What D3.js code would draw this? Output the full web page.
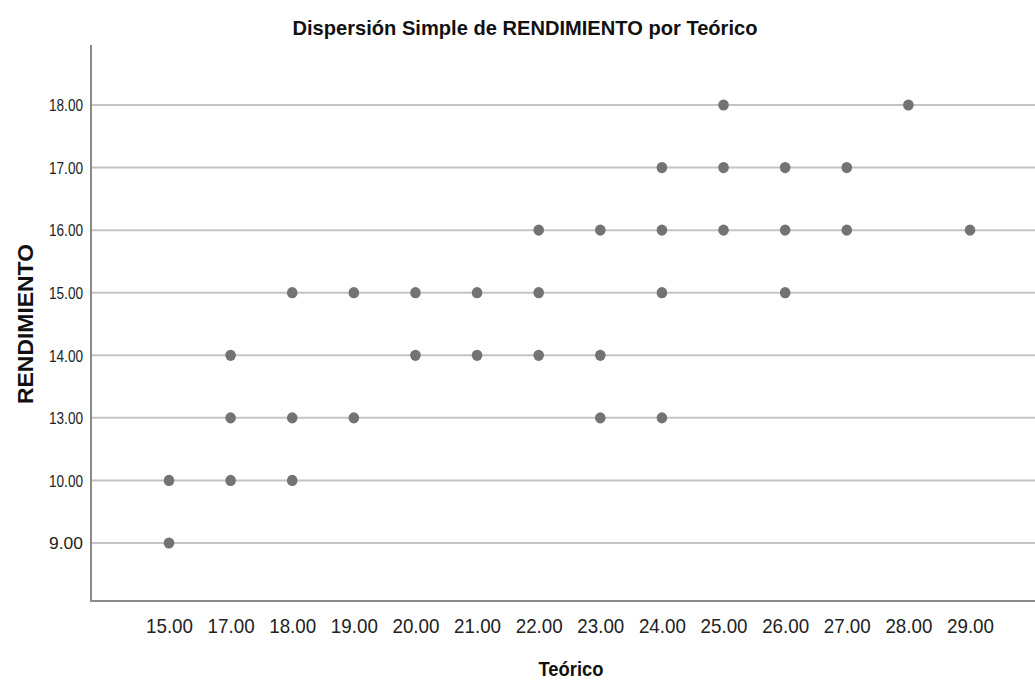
<!DOCTYPE html>
<html>
<head>
<meta charset="utf-8">
<script src="https://cdn.jsdelivr.net/npm/d3@7"></script>
<style>
  html, body { margin: 0; padding: 0; background: #fff; }
  svg { display: block; font-family: "Liberation Sans", Arial, sans-serif; }
</style>
</head>
<body>
<svg id="chart" width="1035" height="682"></svg>
<script>
// Categories (ordinal axes, as in SPSS)
const xCategories = [15, 17, 18, 19, 20, 21, 22, 23, 24, 25, 26, 27, 28, 29];
const yCategories = [9, 10, 13, 14, 15, 16, 17, 18];

// Observed points (Teórico, RENDIMIENTO)
const teorico = [15, 15, 17, 17, 17, 18, 18, 18, 19, 19, 20, 20, 21, 21, 22, 22, 22, 23, 23, 23, 24, 24, 24, 24, 25, 25, 25, 26, 26, 26, 27, 27, 28, 29];
const rendimiento = [10, 9, 14, 13, 10, 15, 13, 10, 15, 13, 15, 14, 15, 14, 16, 15, 14, 16, 14, 13, 17, 16, 15, 13, 18, 17, 16, 17, 16, 15, 17, 16, 18, 16];

const titleText = "Dispersión Simple de RENDIMIENTO por Teórico";
const xTitle = "Teórico";
const yTitle = "RENDIMIENTO";

const svg = d3.select("#chart");
const plot = { left: 91, right: 1035, top: 45, bottom: 601 };

const x = d3.scalePoint().domain(xCategories).range([169, 970]);
const y = d3.scalePoint().domain(yCategories).range([543, 105]);

// Gridlines
svg.append("g").selectAll("line").data(yCategories).join("line")
  .attr("x1", plot.left).attr("x2", plot.right)
  .attr("y1", d => y(d)).attr("y2", d => y(d))
  .attr("stroke", "#c4c4c4").attr("stroke-width", 2);

// Y axis
const yAxis = svg.append("g").attr("transform", `translate(${plot.left},0)`)
  .call(d3.axisLeft(y).tickSize(0).tickPadding(8).tickFormat(d => d3.format(".2f")(d)));
yAxis.select(".domain").remove();
yAxis.selectAll("text")
  .attr("font-size", 16).attr("fill", "#222")
  .attr("font-family", "'Liberation Sans', Arial, sans-serif")
  .attr("textLength", 34).attr("lengthAdjust", "spacingAndGlyphs")
  .attr("dy", "0.36em");

// X axis
const xAxis = svg.append("g").attr("transform", `translate(0,${plot.bottom})`)
  .call(d3.axisBottom(x).tickSize(0).tickPadding(17).tickFormat(d => d3.format(".2f")(d)));
xAxis.select(".domain").remove();
xAxis.selectAll("text")
  .attr("font-size", 21).attr("fill", "#222")
  .attr("font-family", "'Liberation Sans', Arial, sans-serif")
  .attr("textLength", 47).attr("lengthAdjust", "spacingAndGlyphs");

// Axis lines
svg.append("line").attr("x1", plot.left).attr("x2", plot.left)
  .attr("y1", plot.top).attr("y2", plot.bottom + 1)
  .attr("stroke", "#8a8a8a").attr("stroke-width", 2);
svg.append("line").attr("x1", plot.left - 1).attr("x2", plot.right)
  .attr("y1", plot.bottom).attr("y2", plot.bottom)
  .attr("stroke", "#8a8a8a").attr("stroke-width", 2);

// Points
const pts = teorico.map((t, i) => ({ x: t, y: rendimiento[i] }));
svg.append("g").selectAll("ellipse").data(pts).join("ellipse")
  .attr("cx", d => x(d.x)).attr("cy", d => y(d.y))
  .attr("rx", 5.3).attr("ry", 5.6)
  .attr("fill", "#737373");

// Title
svg.append("text").attr("x", 525).attr("y", 35)
  .attr("text-anchor", "middle").attr("font-size", 21).attr("font-weight", "bold")
  .attr("fill", "#111")
  .attr("textLength", 465).attr("lengthAdjust", "spacingAndGlyphs")
  .text(titleText);

// X title
svg.append("text").attr("x", 571).attr("y", 676)
  .attr("text-anchor", "middle").attr("font-size", 20).attr("font-weight", "bold")
  .attr("fill", "#111")
  .attr("textLength", 65).attr("lengthAdjust", "spacingAndGlyphs")
  .text(xTitle);

// Y title
svg.append("text").attr("transform", "translate(33,324) rotate(-90)")
  .attr("text-anchor", "middle").attr("font-size", 22).attr("font-weight", "bold")
  .attr("fill", "#111")
  .attr("textLength", 160).attr("lengthAdjust", "spacingAndGlyphs")
  .text(yTitle);
</script>
</body>
</html>
